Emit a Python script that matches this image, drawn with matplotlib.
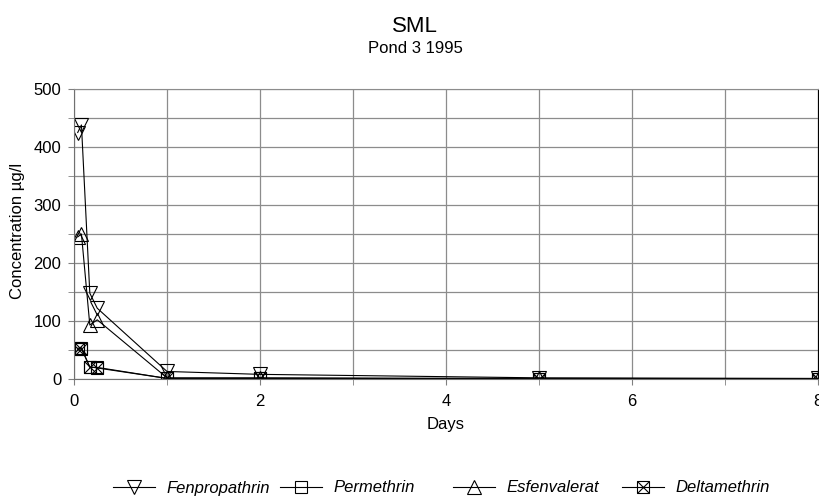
import matplotlib.pyplot as plt
from matplotlib.ticker import MultipleLocator
from matplotlib.legend_handler import HandlerTuple

plt.rcParams['font.family'] = ['Liberation Sans', 'DejaVu Sans']

days = [0.04, 0.08, 0.17, 0.25, 1, 2, 5, 8]
fenpropathrin = [425, 438, 148, 122, 13, 8, 2, 1]
permethrin = [53, 54, 20, 20, 1, 1, 0.5, 0.3]
esfenvalerat = [245, 250, 93, 102, 2, 2, 1, 0.5]
deltamethrin = [51, 52, 21, 19, 1, 1, 0.5, 0.3]
names = ["Fenpropathrin", "Permethrin", "Esfenvalerat", "Deltamethrin"]

W, H = 820, 497
fig = plt.figure(figsize=(W / 100, H / 100), dpi=100)
ax = fig.add_axes([74 / W, 1 - 379 / H, (818 - 74) / W, (379 - 89) / H])

lw = 0.8
style = dict(color="black", lw=lw, mfc="none", mec="black", mew=0.8)
h1, = ax.plot(days, fenpropathrin, marker="v", ms=10, **style)
h2, = ax.plot(days, permethrin, marker="s", ms=8, **style)
h3, = ax.plot(days, esfenvalerat, marker="^", ms=10, **style)
h4, = ax.plot(days, deltamethrin, marker="s", ms=8, **style)
h4x, = ax.plot(days, deltamethrin, ls="none", marker="x", ms=8,
               mec="black", mew=0.8)

ax.set_xlim(0, 8)
ax.set_ylim(0, 500)
ax.xaxis.set_major_locator(MultipleLocator(2))
ax.xaxis.set_minor_locator(MultipleLocator(1))
ax.yaxis.set_major_locator(MultipleLocator(100))
ax.yaxis.set_minor_locator(MultipleLocator(50))
ax.grid(True, which="both", color="#8c8c8c", lw=0.9)
ax.set_axisbelow(True)
ax.tick_params(which="both", direction="out", length=4, color="#808080",
               labelsize=12)
ax.tick_params(axis="x", pad=7)
ax.tick_params(axis="y", pad=5)
for s in ["left", "bottom"]:
    ax.spines[s].set_color("#707070")
ax.spines["top"].set_color("#8c8c8c")
ax.spines["right"].set_color("black")

fig.text(446 / W, 1 - 425 / H, "Days", ha="center", va="center", fontsize=12)
fig.text(18 / W, 1 - 231 / H, "Concentration µg/l", ha="center", va="center",
         rotation=90, fontsize=12)

fig.text(415 / W, 1 - 32 / H, "SML", ha="center", va="baseline", fontsize=16)
fig.text(415 / W, 1 - 53 / H, "Pond 3 1995", ha="center", va="baseline",
         fontsize=12)

# Excel style legend: equal width entries along the bottom
handles = [h1, h2, h3, (h4, h4x)]
starts = [113, 280, 453, 622]
for hd, name, x0 in zip(handles, names, starts):
    fig.legend([hd], [name],
               handler_map={tuple: HandlerTuple(ndivide=1, pad=0)},
               loc="center left", bbox_to_anchor=(x0 / W, 1 - 488 / H),
               frameon=False, borderpad=0, borderaxespad=0,
               handlelength=2.5, handletextpad=0.7,
               prop={"style": "italic", "size": 12})

fig.savefig("out.png", dpi=100)
